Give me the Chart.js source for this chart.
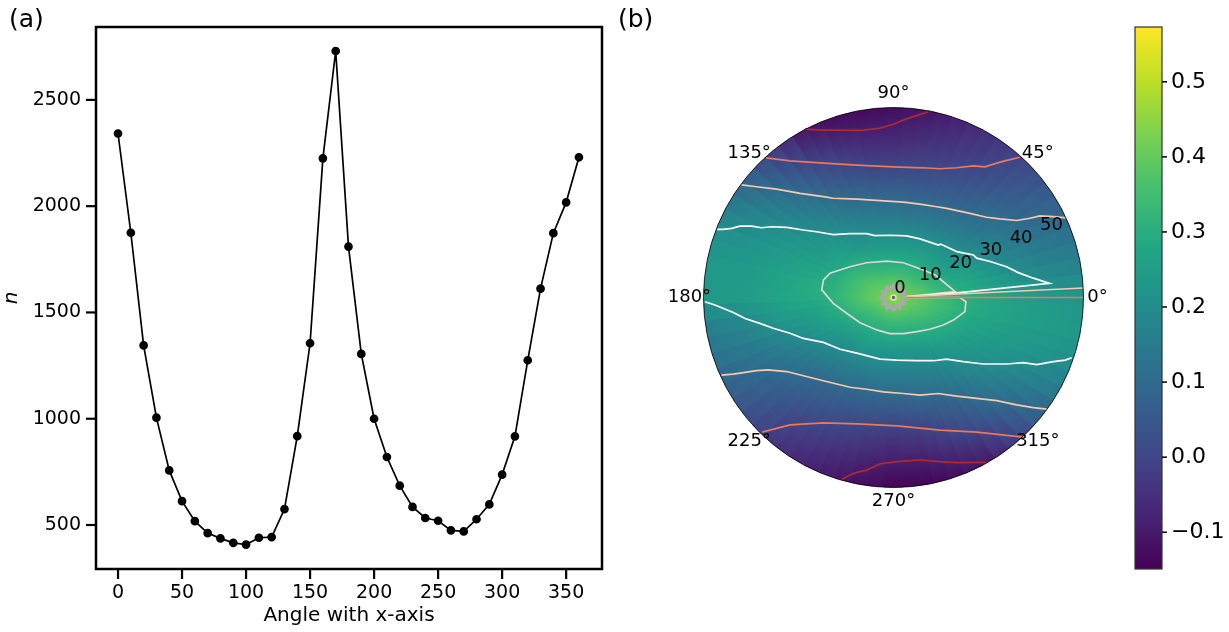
<!DOCTYPE html>
<html>
<head>
<meta charset="utf-8">
<style>
    body { margin: 0; background: #fff; width: 1229px; height: 632px; overflow: hidden; position: relative; font-family: "DejaVu Sans", sans-serif; }
    canvas { position: absolute; top: 0; }
    .panel-tag { position: absolute; font-size: 25px; line-height: 28px; color: #000; }
</style>
<script src="https://cdn.jsdelivr.net/npm/chart.js@4"></script>
</head>
<body>
<canvas id="lineChart" width="615" height="632" style="left:0"></canvas>
<canvas id="polarChart" width="520" height="632" style="left:615px"></canvas>
<canvas id="barChart" width="109" height="632" style="left:1120px"></canvas>
<div class="panel-tag" style="left:9px;top:5px">(a)</div>
<div class="panel-tag" style="left:618px;top:5px">(b)</div>
<script>
// Panel (a)
const angles = [0, 10, 20, 30, 40, 50, 60, 70, 80, 90, 100, 110, 120, 130, 140, 150, 160, 170, 180, 190, 200, 210, 220, 230, 240, 250, 260, 270, 280, 290, 300, 310, 320, 330, 340, 350, 360];
const counts = [2342, 1875, 1345, 1005, 757, 612, 518, 462, 437, 416, 408, 440, 443, 575, 918, 1355, 2225, 2730, 1810, 1305, 1000, 820, 685, 585, 533, 520, 475, 470, 527, 597, 737, 917, 1275, 1612, 1873, 2018, 2230];
const countTicks = [500, 1000, 1500, 2000, 2500];

// Panel (b): field read along circles, one value per 10 degrees starting at 0
const fieldRadii = [0, 1.5, 3.7, 7.6, 12.2, 18.3, 24.4, 33.6, 45.8, 58];
const fieldAt0 = [.47, .47, .47, .47, .47, .47, .47, .47, .47, .47, .47, .47, .47, .47, .47, .47, .47, .47, .47, .47, .47, .47, .47, .47, .47, .47, .47, .47, .47, .47, .47, .47, .47, .47, .47, .47];
const fieldAt1 = [.44, .44, .44, .44, .44, .44, .44, .43, .43, .43, .43, .43, .44, .44, .44, .44, .44, .44, .44, .44, .44, .44, .44, .43, .43, .43, .43, .43, .43, .44, .44, .44, .44, .44, .44, .44];
const fieldAt4 = [.41, .41, .405, .405, .4, .4, .4, .395, .395, .395, .395, .395, .4, .4, .405, .405, .41, .41, .41, .41, .405, .4, .4, .395, .395, .395, .395, .395, .395, .395, .4, .4, .405, .405, .41, .41];
const fieldAt8 = [.39, .385, .375, .36, .35, .345, .34, .34, .335, .335, .335, .34, .345, .355, .37, .38, .385, .39, .39, .385, .37, .355, .345, .34, .335, .335, .335, .335, .335, .34, .345, .355, .365, .375, .385, .39];
const fieldAt12 = [.36, .345, .33, .31, .3, .295, .29, .285, .285, .285, .285, .29, .295, .31, .325, .34, .35, .355, .355, .345, .33, .31, .3, .295, .29, .285, .285, .285, .285, .29, .295, .31, .32, .335, .35, .36];
const fieldAt18 = [.32, .3, .275, .25, .235, .23, .225, .215, .21, .205, .205, .22, .225, .245, .27, .285, .3, .31, .315, .3, .28, .255, .235, .225, .23, .215, .21, .21, .21, .215, .23, .255, .275, .295, .305, .325];
const fieldAt24 = [.295, .28, .255, .21, .19, .175, .16, .155, .145, .15, .155, .165, .185, .205, .24, .25, .275, .295, .295, .26, .245, .215, .19, .17, .16, .15, .15, .15, .155, .165, .18, .205, .23, .25, .275, .29];
const fieldAt34 = [.27, .235, .19, .16, .125, .1, .082, .07, .06, .06, .065, .085, .11, .155, .19, .225, .25, .27, .275, .245, .195, .155, .12, .09, .078, .065, .06, .055, .068, .083, .105, .145, .19, .225, .245, .265];
const fieldAt46 = [.24, .185, .145, .102, .068, .034, 0, -.02, -.035, -.048, -.045, -.025, .012, .07, .13, .19, .22, .24, .245, .19, .145, .1, .06, .022, -.005, -.025, -.045, -.06, -.055, -.025, .014, .065, .125, .18, .225, .25];
const fieldAt58 = [.22, .17, .12, .076, .03, -.012, -.05, -.08, -.105, -.125, -.13, -.125, -.095, -.02, .065, .14, .205, .235, .235, .16, .12, .07, .02, -.035, -.07, -.095, -.12, -.14, -.14, -.125, -.1, -.03, .06, .14, .2, .235];

// contour lines, x and y in the same units as the radial labels
const redTopX = [-27, -21.4, -18.4, -9.7, -4.1, 0, 3.0, 6.1, 10.6];
const redTopY = [51.4, 51.1, 51.1, 51.0, 51.7, 52.9, 54.2, 55.2, 56.7];
const redBottomX = [-15.8, -13.3, -11.2, -8.2, -4.1, 1.0, 8.1, 14.2, 19.3, 28.4];
const redBottomY = [-55.5, -54.2, -53.4, -52.7, -50.8, -50.1, -49.6, -50.1, -50.4, -50.3];
const orangeTopX = [-38.9, -31.6, -21.4, -11.2, -.1, 9.1, 14.2, 19.3, 24.4, 27.9, 31.5, 34.0, 38.6];
const orangeTopY = [42.6, 41.7, 41.0, 40.4, 39.9, 39.6, 39.3, 39.6, 40.2, 39.9, 41.0, 41.7, 42.8];
const orangeBottomX = [-40.1, -31.6, -21.5, -11.1, 1.1, 14.2, 25.5, 39.5];
const orangeBottomY = [-41.1, -38.9, -38.3, -38.6, -39.2, -40.5, -41.1, -42.6];
const orangeSliverX = [4, 58];
const orangeSliverY = [0, 0];
const peachTopX = [-46.4, -41.8, -35.7, -28.5, -21.4, -18.4, -11.2, -4.1, 3.0, 8.1, 13.2, 16.2, 22.3, 28.4, 32.5, 37.6, 41.7, 44.7, 48.8, 52.7];
const peachTopY = [34.4, 33.8, 33.1, 31.8, 30.8, 30.3, 30.0, 29.6, 29.1, 28.5, 27.7, 27.2, 25.9, 24.5, 24.0, 23.5, 24.2, 24.9, 24.7, 24.3];
const peachBottomX = [-52.5, -48.9, -41.8, -38.2, -32.6, -27.5, -21.4, -13.3, -8.2, -3.1, 3.0, 8.1, 13.7, 19.3, 25.4, 31.5, 37.6, 42.7, 46.8];
const peachBottomY = [-23.7, -23.4, -22.3, -22.1, -22.6, -23.9, -25.4, -27.4, -28.0, -28.8, -29.3, -29.8, -29.3, -30.1, -30.8, -31.5, -32.8, -33.6, -34.1];
const peachSliverX = [4, 58];
const peachSliverY = [.3, 2.9];
const whiteTopX = [-53.8, -52.0, -49.4, -46.9, -43.3, -40.3, -37.2, -32.6, -27.5, -23.0, -18.4, -13.3, -8.2, -5.7, -1.1, 4.0, 8.1, 13.7, 14.4, 19.3, 24.4, 25.4, 29.5, 34.5, 38.1, 42.7, 47.6, 19.4, 4.1];
const whiteTopY = [20.8, 20.8, 21.1, 21.8, 21.8, 21.3, 21.6, 21.4, 20.6, 20.0, 19.2, 19.5, 19.5, 18.9, 19.0, 18.8, 17.9, 16.0, 16.3, 14.0, 13.0, 12.0, 11.0, 9.4, 7.6, 5.9, 4.3, 1.4, .2];
const whiteBottomX = [-57.6, -54.5, -48.9, -45.3, -40.8, -36.7, -31.6, -27.5, -21.4, -16.3, -11.2, -4.1, 1.0, 7.1, 12.2, 16.2, 21.3, 27.4, 34.6, 39.6, 43.7, 48.8, 52.4, 54.4];
const whiteBottomY = [-1.3, -2.3, -4.6, -6.4, -7.9, -9.4, -10.9, -12.5, -13.7, -15.8, -17.0, -18.8, -19.1, -19.3, -19.3, -18.8, -19.6, -20.3, -20.3, -19.9, -20.5, -19.6, -19.1, -18.4];
const greyLoopX = [4.1, 18.8, 15.2, 12.7, 9.1, 3.0, -2.1, -8.2, -13.3, -19.4, -21.4, -21.9, -21.4, -18.4, -14.3, -10.2, -5.1, -1.1, 3.0, 7.1, 11.1, 15.2, 18.3, 21.8, 22.1, 20.3, 4.1];
const greyLoopY = [.3, 1.8, 4.8, 6.9, 8.4, 10.6, 11.1, 10.6, 9.4, 7.4, 5.3, 2.3, 1.8, -1.8, -4.8, -7.7, -9.9, -11.0, -11.0, -10.4, -9.7, -8.4, -6.9, -4.3, -1.3, 0, 0];
const ringX = [3.6, 2.8, 3.12, 2.05, 1.8, .75, 0, -.75, -1.8, -2.05, -3.12, -2.8, -3.6, -2.8, -3.12, -2.05, -1.8, -.75, 0, .75, 1.8, 2.05, 3.12, 2.8, 3.6];
const ringY = [0, .75, 1.8, 2.05, 3.12, 2.8, 3.6, 2.8, 3.12, 2.05, 1.8, .75, 0, -.75, -1.8, -2.05, -3.12, -2.8, -3.6, -2.8, -3.12, -2.05, -1.8, -.75, 0];

const radialTicks = [0, 10, 20, 30, 40, 50];
const thetaTicks = [0, 45, 90, 135, 180, 225, 270, 315];
const rMax = 58;

// Colorbar
const barMin = -0.149;
const barMax = 0.573;
const viridis = ['#440154', '#482475', '#414487', '#355f8d', '#2a788e', '#21918c', '#22a884', '#44bf70', '#7ad151', '#bddf26', '#fde725'];

Chart.defaults.font.family = '"DejaVu Sans", sans-serif';
Chart.defaults.color = '#000';
Chart.defaults.animation = false;

function hexToRgb(h) {
    return [1, 3, 5].map(i => parseInt(h.slice(i, i + 2), 16));
}

function colorFor(v) {
    const t = Math.min(1, Math.max(0, (v - barMin) / (barMax - barMin))) * (viridis.length - 1);
    const i = Math.min(viridis.length - 2, Math.floor(t));
    const a = hexToRgb(viridis[i]);
    const b = hexToRgb(viridis[i + 1]);
    const c = a.map((ch, k) => Math.round(ch + (b[k] - ch) * (t - i)));
    return `rgb(${c[0]},${c[1]},${c[2]})`;
}

function pairs(xs, ys) {
    return xs.map((x, i) => ({ x, y: ys[i] }));
}

// box around the plot area, with the tick marks on top of it
const frame = {
    id: 'frame',
    afterDraw(chart) {
        const { ctx, chartArea: a } = chart;
        const o = chart.options.plugins.frame;
        ctx.save();
        ctx.strokeStyle = o.color;
        ctx.lineWidth = o.width;
        ctx.strokeRect(a.left, a.top, a.right - a.left, a.bottom - a.top);
        ctx.strokeStyle = '#000';
        ctx.lineWidth = o.tickWidth;
        Object.values(chart.scales).forEach(s => {
            if (!s.options.display) return;
            s.ticks.forEach(t => {
                const p = s.getPixelForValue(t.value);
                ctx.beginPath();
                if (s.isHorizontal()) {
                    ctx.moveTo(p, a.bottom);
                    ctx.lineTo(p, a.bottom + o.tickLength);
                } else if (s.position === 'left') {
                    ctx.moveTo(a.left, p);
                    ctx.lineTo(a.left - o.tickLength, p);
                } else {
                    ctx.moveTo(a.right, p);
                    ctx.lineTo(a.right + o.tickLength, p);
                }
                ctx.stroke();
            });
        });
        ctx.restore();
    }
};

new Chart(document.getElementById('lineChart'), {
    type: 'line',
    data: {
        labels: angles,
        datasets: [{
            data: pairs(angles, counts),
            borderColor: '#000',
            backgroundColor: '#000',
            borderWidth: 1.7,
            pointRadius: 3.5,
            tension: 0
        }]
    },
    options: {
        responsive: false,
        layout: { padding: { top: 27, right: 13, left: 0, bottom: 0 } },
        plugins: {
            legend: { display: false }, tooltip: { enabled: false },
            frame: { color: '#000', width: 2.5, tickWidth: 2.2, tickLength: 10 }
        },
        scales: {
            x: {
                type: 'linear', min: -17.2, max: 378,
                afterFit: s => { s.height = 63; },
                grid: { drawOnChartArea: false, tickLength: 10, tickColor: 'rgba(0,0,0,0)' },
                border: { display: false },
                ticks: { stepSize: 50, includeBounds: false, font: { size: 19 }, padding: 3, maxRotation: 0 },
                title: { display: true, text: 'Angle with x-axis', font: { size: 20 }, padding: { top: 0, bottom: 4 } }
            },
            y: {
                type: 'linear', min: 293, max: 2843,
                afterFit: s => { s.width = 96; },
                afterBuildTicks: s => { s.ticks = countTicks.map(value => ({ value })); },
                grid: { drawOnChartArea: false, tickLength: 10, tickColor: 'rgba(0,0,0,0)' },
                border: { display: false },
                ticks: { font: { size: 19 }, padding: 5, callback: v => String(v) },
                title: { display: true, text: 'n', font: { size: 20, style: 'italic' }, padding: { top: 0, bottom: 0 } }
            }
        }
    },
    plugins: [frame]
});

// wedges of the field, painted under the contour lines
const polarField = {
    id: 'polarField',
    beforeDatasetsDraw(chart) {
        const { ctx, scales: { x, y } } = chart;
        const rows = [fieldAt0, fieldAt1, fieldAt4, fieldAt8, fieldAt12, fieldAt18, fieldAt24, fieldAt34, fieldAt46, fieldAt58];
        const cx = x.getPixelForValue(0);
        const cy = y.getPixelForValue(0);
        const R = x.getPixelForValue(rMax) - cx;
        const stepDeg = 5;
        const gradientAt = (i, f) => {
            const grad = ctx.createRadialGradient(cx, cy, 0, cx, cy, R);
            fieldRadii.forEach((r, k) => {
                const row = rows[k];
                grad.addColorStop(r / rMax, colorFor(row[i] * (1 - f) + row[(i + 1) % 36] * f));
            });
            return grad;
        };
        // base disc so no white shows through the seams near the centre
        ctx.beginPath();
        ctx.arc(cx, cy, R - 0.5, 0, Math.PI * 2);
        ctx.fillStyle = gradientAt(0, 0);
        ctx.fill();
        for (let deg = 0; deg < 360; deg += stepDeg) {
            const i = Math.floor(deg / 10);
            const half = stepDeg / 2 + 0.4;
            ctx.beginPath();
            ctx.moveTo(cx, cy);
            ctx.arc(cx, cy, R, -(deg + half) * Math.PI / 180, -(deg - half) * Math.PI / 180);
            ctx.closePath();
            ctx.fillStyle = gradientAt(i, (deg - i * 10) / 10);
            ctx.fill();
        }
    },
    afterDatasetsDraw(chart) {
        const { ctx, scales: { x, y } } = chart;
        const cx = x.getPixelForValue(0);
        const cy = y.getPixelForValue(0);
        const R = x.getPixelForValue(rMax) - cx;
        ctx.save();
        ctx.beginPath();
        ctx.arc(cx, cy, R, 0, Math.PI * 2);
        ctx.strokeStyle = '#000';
        ctx.lineWidth = 0.8;
        ctx.stroke();
        ctx.fillStyle = '#000';
        ctx.textAlign = 'center';
        ctx.textBaseline = 'middle';
        ctx.font = '18px "DejaVu Sans"';
        thetaTicks.forEach(t => {
            const a = t * Math.PI / 180;
            ctx.fillText(t + '°', x.getPixelForValue(62.3 * Math.cos(a)), y.getPixelForValue(62.3 * Math.sin(a)));
        });
        const ra = 22.5 * Math.PI / 180;
        radialTicks.forEach(r => {
            ctx.fillText(String(r), x.getPixelForValue(r * Math.cos(ra) + 2), y.getPixelForValue(r * Math.sin(ra) + 2.9));
        });
        ctx.restore();
    }
};

function contour(xs, ys, color, width) {
    return { data: pairs(xs, ys), showLine: true, borderColor: color, borderWidth: width || 1.7, pointRadius: 0, tension: 0 };
}

new Chart(document.getElementById('polarChart'), {
    type: 'scatter',
    data: {
        datasets: [
            contour(redTopX, redTopY, '#b2282e'),
            contour(redBottomX, redBottomY, '#b2282e'),
            contour(orangeTopX, orangeTopY, '#e9785c'),
            contour(orangeBottomX, orangeBottomY, '#e9785c'),
            contour(orangeSliverX, orangeSliverY, '#e9785c'),
            contour(peachTopX, peachTopY, '#f9c9ad'),
            contour(peachBottomX, peachBottomY, '#f9c9ad'),
            contour(peachSliverX, peachSliverY, '#f9c9ad'),
            contour(whiteTopX, whiteTopY, '#fdfdfd'),
            contour(whiteBottomX, whiteBottomY, '#fdfdfd'),
            contour(greyLoopX, greyLoopY, '#d8d8d8'),
            contour(ringX, ringY, '#a9a9a9', 4),
            { data: [{ x: 0, y: 0 }], pointRadius: 2.5, pointBackgroundColor: '#666', pointBorderColor: '#ddd', pointBorderWidth: 1.5 }
        ]
    },
    options: {
        responsive: false,
        layout: { padding: { left: 88.5, right: 51.5, top: 107.5, bottom: 144.5 } },
        plugins: { legend: { display: false }, tooltip: { enabled: false } },
        scales: {
            x: { type: 'linear', min: -rMax, max: rMax, display: false },
            y: { type: 'linear', min: -rMax, max: rMax, display: false }
        }
    },
    plugins: [polarField]
});

new Chart(document.getElementById('barChart'), {
    type: 'bar',
    data: {
        labels: [''],
        datasets: [{
            data: [[barMin, barMax]],
            barPercentage: 1,
            categoryPercentage: 1,
            borderWidth: 0,
            backgroundColor(c) {
                const a = c.chart.chartArea;
                if (!a) return viridis[5];
                const g = c.chart.ctx.createLinearGradient(0, a.bottom, 0, a.top);
                viridis.forEach((col, i) => g.addColorStop(i / (viridis.length - 1), col));
                return g;
            }
        }]
    },
    options: {
        responsive: false,
        layout: { padding: { left: 15, right: 0, top: 27, bottom: 63 } },
        plugins: {
            legend: { display: false }, tooltip: { enabled: false },
            frame: { color: '#333', width: 1.2, tickWidth: 1.5, tickLength: 5 }
        },
        scales: {
            x: { display: false },
            y: {
                position: 'right', min: barMin, max: barMax,
                afterFit: s => { s.width = 67; },
                grid: { drawOnChartArea: false, tickLength: 6, tickColor: 'rgba(0,0,0,0)' },
                border: { display: false },
                ticks: {
                    stepSize: 0.1, includeBounds: false, font: { size: 22 }, padding: 3,
                    callback: v => (v < -0.001 ? '\u2212' : '') + Math.abs(v).toFixed(1)
                }
            }
        }
    },
    plugins: [frame]
});
</script>
</body>
</html>
